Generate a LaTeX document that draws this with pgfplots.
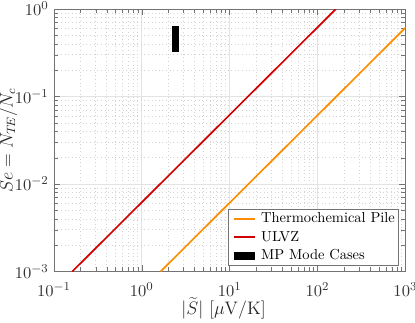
\documentclass[border=0pt]{standalone}
\usepackage{pgfplots}
\pgfplotsset{compat=1.18}
\definecolor{pileorange}{RGB}{255,140,0}
\definecolor{ulvzred}{RGB}{210,0,0}
\begin{document}
\begin{tikzpicture}
\begin{axis}[
    xmode=log, ymode=log,
    scale only axis,
    width=233pt, height=174pt,
    xmin=0.1, xmax=1000,
    ymin=0.001, ymax=1,
    xtick={0.1,1,10,100,1000},
    ytick={0.001,0.01,0.1,1},
    xlabel={$|\widetilde{S}|\ [\mu\mathrm{V/K}]$},
    ylabel={$Se = N_{T\!E}/N_c$},
    every axis x label/.style={at={(axis description cs:0.483,-0.139)}, anchor=center},
    every axis y label/.style={at={(axis description cs:-0.1305,0.5)}, rotate=90, anchor=center},
    grid=both,
    major grid style={solid, gray!22},
    minor grid style={dotted, gray!35},
    axis line style={black!55},
    tick style={black!55},
    tick label style={black!80, inner sep=0.5pt, font=\fontsize{11}{13}\selectfont},
    xticklabel style={yshift=-6.8pt},
    yticklabel style={xshift=-2.8pt},
    label style={black!85, font=\fontsize{11.5}{13}\selectfont},
    legend cell align=left,
    legend image code/.code={
        \draw[mark repeat=2, mark phase=2, #1] plot coordinates {(0pt,0pt) (7.2pt,0pt) (14.4pt,0pt)};
    },
    legend style={at={(1,0)}, anchor=south east, xshift=-4.2pt, yshift=3.6pt,
        draw=black!55, font=\fontsize{9.6}{11}\selectfont, row sep=1.5pt,
        inner sep=1.2pt, nodes={inner sep=1.3pt}},
]
\addplot[color=pileorange, line width=1.1pt] coordinates {
    (1.64, 0.001)
    (1000, 0.61)
};
\addlegendentry{Thermochemical Pile}
\addplot[color=ulvzred, line width=1.1pt] coordinates {
    (0.162, 0.001)
    (162, 1)
};
\addlegendentry{ULVZ}
\addplot[color=black, line width=5pt] coordinates {
    (2.43, 0.32)
    (2.43, 0.645)
};
\addlegendentry{MP Mode Cases}
\end{axis}
\pgfresetboundingbox
\path[use as bounding box]
    ([xshift=-35.7pt, yshift=-33.8pt]current axis.south west)
    rectangle ([xshift=6.4pt, yshift=6pt]current axis.north east);
\end{tikzpicture}
\end{document}
